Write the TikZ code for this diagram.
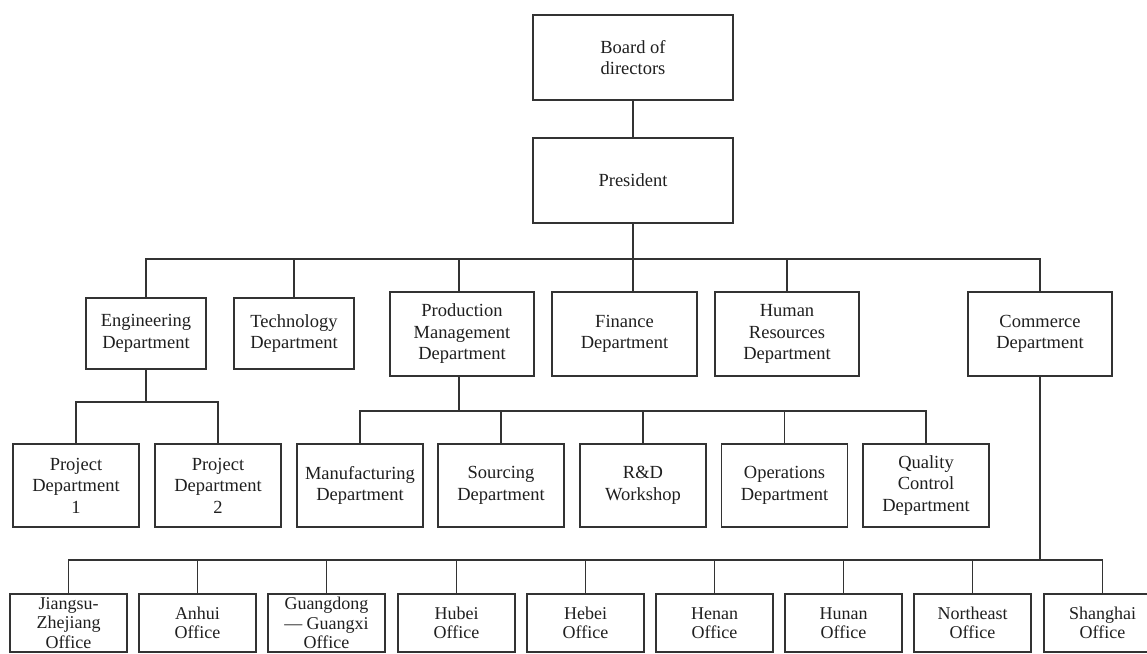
\documentclass[tikz,border=0pt]{standalone}
\usepackage{fontspec}
\setmainfont{Liberation Serif}
\begin{document}
\begin{tikzpicture}[x=1pt,y=-1pt,
  box/.style={draw=black!80, line width=1.1pt, inner sep=0pt, align=center,
    text=black!88, font=\fontsize{18.5pt}{21.5pt}\selectfont},
  toprow/.style={box, minimum width=200pt, minimum height=85pt},
  smallbox/.style={box, minimum width=120pt, minimum height=71pt},
  midbox/.style={box, minimum width=144pt, minimum height=84pt},
  subbox/.style={box, minimum width=126pt, minimum height=83pt},
  officebox/.style={box, minimum width=117pt, minimum height=58pt,
    font=\fontsize{18pt}{19.5pt}\selectfont},
  conn/.style={draw=black!80, line width=1.1pt}]
\useasboundingbox (0,0) rectangle (1147,653);
\clip (0,0) rectangle (1147,653);
% top
\node[toprow] (board) at (633,57.5) {Board of\\directors};
\node[toprow] (pres) at (633,180.5) {President};
% second row
\node[smallbox] (eng) at (146,333.5) {Engineering\\Department};
\node[smallbox] (tech) at (294,333.5) {Technology\\Department};
\node[midbox] (prod) at (462,334) {Production\\Management\\Department};
\node[midbox, minimum width=145pt] (fin) at (624.5,334) {Finance\\Department};
\node[midbox] (hr) at (787,334) {Human\\Resources\\Department};
\node[midbox] (com) at (1040,334) {Commerce\\Department};
% third row
\node[subbox] (p1) at (76,485.5) {Project\\Department\\1};
\node[subbox] (p2) at (218,485.5) {Project\\Department\\2};
\node[subbox] (man) at (360,485.5) {Manufacturing\\Department};
\node[subbox] (src) at (501,485.5) {Sourcing\\Department};
\node[subbox] (rd) at (643,485.5) {R\&D\\Workshop};
\node[subbox] (ops) at (784.5,485.5) {Operations\\Department};
\node[subbox] (qc) at (926,485.5) {Quality\\Control\\Department};
% bottom row
\node[officebox] (o1) at (68.5,623) {Jiangsu-\\Zhejiang\\Office};
\node[officebox] (o2) at (197.5,623) {Anhui\\Office};
\node[officebox] (o3) at (326.5,623) {Guangdong\\— Guangxi\\Office};
\node[officebox] (o4) at (456.5,623) {Hubei\\Office};
\node[officebox] (o5) at (585.5,623) {Hebei\\Office};
\node[officebox] (o6) at (714.5,623) {Henan\\Office};
\node[officebox] (o7) at (843.5,623) {Hunan\\Office};
\node[officebox] (o8) at (972.5,623) {Northeast\\Office};
\node[officebox] (o9) at (1102.5,623) {Shanghai\\Office};
% junctions
\coordinate (bar1) at (633,259);
\coordinate (bar2) at (146,402);
\coordinate (bar3) at (459,411);
\coordinate (bar4) at (1040,560);
% connectors
\draw[conn] (board) -- (pres);
\draw[conn] (pres.south) -- (bar1);
\foreach \n in {eng,tech,hr,com} \draw[conn] (bar1) -| (\n.north);
\draw[conn] (bar1) -| (prod.north -| bar3);
\draw[conn] (bar1) -- (fin.north -| bar1);
\draw[conn] (eng.south) -- (bar2);
\foreach \n in {p1,p2} \draw[conn] (bar2) -| (\n.north);
\draw[conn] (prod.south -| bar3) -- (bar3);
\foreach \n in {man,src,rd,ops,qc} \draw[conn] (bar3) -| (\n.north);
\draw[conn] (com.south) -- (bar4);
\foreach \n in {o1,o2,o3,o4,o5,o6,o7,o8,o9} \draw[conn] (bar4) -| (\n.north);
\end{tikzpicture}
\end{document}
